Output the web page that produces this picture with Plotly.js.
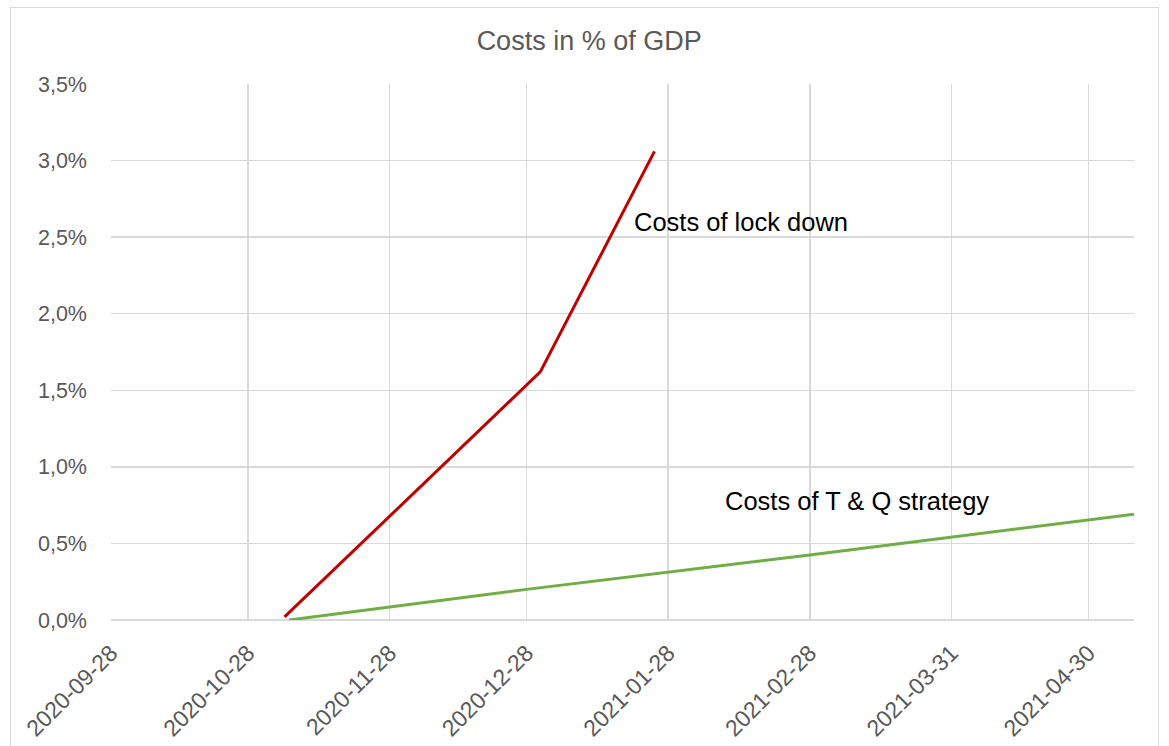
<!DOCTYPE html>
<html>
<head>
<meta charset="utf-8">
<script src="https://cdn.plot.ly/plotly-3.0.1.min.js"></script>
<style>
  html, body { margin: 0; padding: 0; background: #fff; }
  #wrap { position: relative; width: 1169px; height: 746px; }
  #chart { position: absolute; left: 0; top: 0; width: 1169px; height: 746px; }
  #frame { position: absolute; left: 10px; top: 7px; width: 1149px; height: 745px; border: 1px solid #d9d9d9; pointer-events: none; box-sizing: border-box; }
</style>
</head>
<body>
<div id="wrap">
  <div id="chart"></div>
  <div id="frame"></div>
</div>
<script>
// Data (values in % of GDP)
const lockdownDates = ['2020-11-05', '2020-12-31', '2021-01-25'];
const lockdownValues = [0.02, 1.62, 3.06];

const tqDates = ['2020-11-06', '2020-12-28', '2021-02-28', '2021-04-30', '2021-05-10'];
const tqValues = [0.0, 0.20, 0.425, 0.65, 0.69];

const tickDates = ['2020-09-28', '2020-10-28', '2020-11-28', '2020-12-28', '2021-01-28', '2021-02-28', '2021-03-31', '2021-04-30'];
const tickLabels = ['2020-09-28', '2020-10-28', '2020-11-28', '2020-12-28', '2021-01-28', '2021-02-28', '2021-03-31', '2021-04-30'];

const yTicks = [0, 0.5, 1.0, 1.5, 2.0, 2.5, 3.0, 3.5];
const yTickLabels = ['0,0%', '0,5%', '1,0%', '1,5%', '2,0%', '2,5%', '3,0%', '3,5%'];

const labelLockdown = 'Costs of lock down';
const labelTQ = 'Costs of T & Q strategy';

const traces = [
  {
    x: lockdownDates, y: lockdownValues, type: 'scatter', mode: 'lines',
    name: labelLockdown, line: { color: '#C00000', width: 3 }, hoverinfo: 'skip'
  },
  {
    x: tqDates, y: tqValues, type: 'scatter', mode: 'lines',
    name: labelTQ, line: { color: '#70AD47', width: 3 }, hoverinfo: 'skip'
  }
];

const FONT = 'Liberation Sans, Arial, sans-serif';

const layout = {
  width: 1169, height: 746,
  margin: { l: 111, r: 35, t: 84, b: 126 },
  paper_bgcolor: '#ffffff', plot_bgcolor: '#ffffff',
  showlegend: false,
  title: {
    text: 'Costs in % of GDP',
    font: { family: FONT, size: 27, color: '#595959' },
    x: 0.504, xanchor: 'center', y: 0.946, yanchor: 'middle'
  },
  xaxis: {
    type: 'date',
    range: ['2020-09-28', '2021-05-10'],
    tickmode: 'array', tickvals: tickDates, ticktext: tickLabels,
    tickangle: -45, tickfont: { family: FONT, size: 23, color: '#595959' },
    showgrid: true, gridcolor: '#d9d9d9', gridwidth: 1.5,
    showline: false, zeroline: false, ticks: '',
    ticklabelstandoff: 14, automargin: false
  },
  yaxis: {
    range: [0, 3.5],
    tickmode: 'array', tickvals: yTicks, ticktext: yTickLabels,
    tickfont: { family: FONT, size: 21.5, color: '#595959' },
    showgrid: true, gridcolor: '#d9d9d9', gridwidth: 1.5,
    zeroline: true, zerolinecolor: '#d9d9d9', zerolinewidth: 1.5,
    showline: false, ticks: '', ticklabelstandoff: 23, automargin: false
  },
  annotations: [
    {
      x: '2021-01-20', y: 2.60, xref: 'x', yref: 'y', text: labelLockdown,
      showarrow: false, xanchor: 'left', yanchor: 'middle',
      font: { family: FONT, size: 25.5, color: '#000000' }
    },
    {
      x: '2021-02-09', y: 0.78, xref: 'x', yref: 'y', text: labelTQ,
      showarrow: false, xanchor: 'left', yanchor: 'middle',
      font: { family: FONT, size: 25.5, color: '#000000' }
    }
  ]
};

Plotly.newPlot('chart', traces, layout, { displayModeBar: false, staticPlot: true });
</script>
</body>
</html>
